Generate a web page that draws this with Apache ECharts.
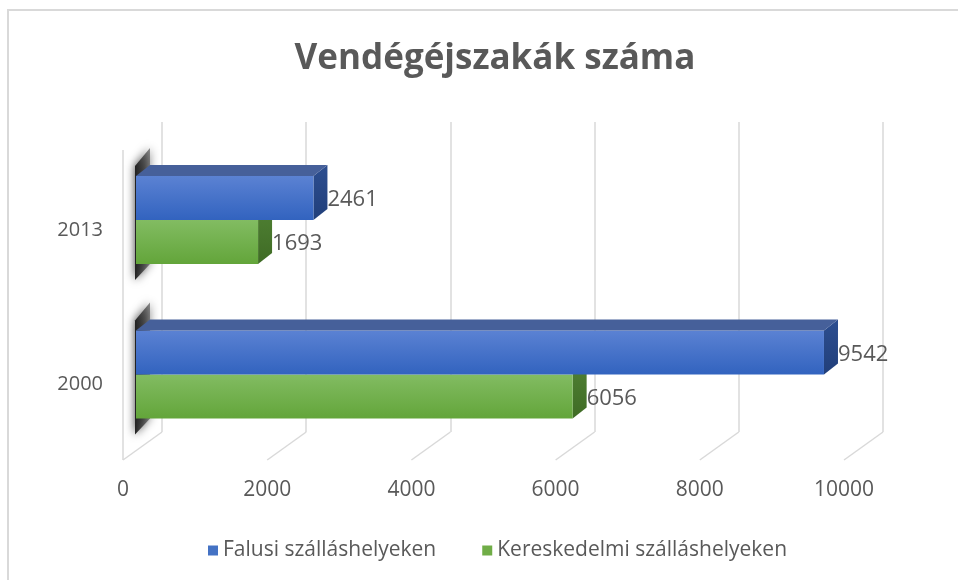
<!DOCTYPE html>
<html>
<head>
<meta charset="utf-8">
<script src="https://cdn.jsdelivr.net/npm/echarts@6/dist/echarts.min.js"></script>
<style>
  html, body { margin: 0; padding: 0; background: #fff; }
  #chart { width: 958px; height: 580px; }
</style>
</head>
<body>
<div id="chart"></div>
<script>
// 数据
const years = ['2000', '2013'];
const falusi = [9542, 2461];        // Falusi szálláshelyeken
const kereskedelmi = [6056, 1693];  // Kereskedelmi szálláshelyeken
const xTicks = [0, 2000, 4000, 6000, 8000, 10000];

const chart = echarts.init(document.getElementById('chart'));

const FONT = 'Open Sans';
const TEXT_COLOR = '#595959';
const GRID_COLOR = '#d9d9d9';
const BAR_RATIO = 0.285;   // bar height / band height
const DX = 14, DY = -11;   // 3D depth of bars
const FLOOR_DX = -39, FLOOR_DY = 28;

function grad(c1, c2) {
  return new echarts.graphic.LinearGradient(0, 0, 0, 1, [
    { offset: 0, color: c1 },
    { offset: 1, color: c2 }
  ]);
}

// 3D bar renderer (upper = blue row, lower = green row)
function barRenderer(upper, front, top, side) {
  return function (params, api) {
    const val = api.value(0);
    const cat = api.value(1);
    const p0 = api.coord([0, cat]);
    const p1 = api.coord([val, cat]);
    const h = api.size([0, 1])[1] * BAR_RATIO;
    const y0 = upper ? p0[1] - h : p0[1];
    const y1 = y0 + h;
    const x0 = p0[0], x1 = p1[0];
    const children = [
      {
        type: 'polygon',
        shape: { points: [[x1, y0], [x1 + DX, y0 + DY], [x1 + DX, y1 + DY], [x1, y1]] },
        style: { fill: side }
      },
      {
        type: 'rect',
        shape: { x: x0, y: y0, width: x1 - x0, height: h },
        style: { fill: front }
      },
      {
        type: 'text',
        style: {
          text: String(val),
          x: x1 + DX,
          y: (y0 + y1) / 2 + 2,
          fill: TEXT_COLOR,
          fontSize: 22,
          fontFamily: FONT,
          verticalAlign: 'middle',
          align: 'left'
        }
      }
    ];
    if (upper) {
      children.push({
        type: 'polygon',
        shape: { points: [[x0, y0], [x0 + DX, y0 + DY], [x1 + DX, y0 + DY], [x1, y0]] },
        style: { fill: top }
      });
    }
    return { type: 'group', children: children };
  };
}

const option = {
  animation: false,
  backgroundColor: '#fff',
  title: {
    text: 'Vendégéjszakák száma',
    left: 490,
    top: 37,
    textAlign: 'center',
    textStyle: { fontFamily: FONT, fontSize: 35, fontWeight: 'bold', color: TEXT_COLOR }
  },
  legend: {
    left: 203,
    top: 535,
    itemWidth: 10,
    itemHeight: 10,
    itemGap: 46,
    icon: 'rect',
    textStyle: { fontFamily: FONT, fontSize: 21, color: TEXT_COLOR },
    data: ['Falusi szálláshelyeken', 'Kereskedelmi szálláshelyeken']
  },
  graphic: [
    {
      type: 'polyline',
      shape: { points: [[8, 600], [8, 10], [960, 10]] },
      style: { stroke: GRID_COLOR, lineWidth: 2, fill: null }
    }
  ],
  grid: [
    { left: 162, width: 721, top: 122, height: 310 },   // back wall
    { left: 136, width: 721, top: 142.75, height: 309 }, // bars
    { left: 123, width: 721, top: 455, height: 5 }       // front labels
  ],
  xAxis: [
    {
      gridIndex: 0, type: 'value', min: 0, max: 10000, interval: 2000,
      axisLine: { show: false }, axisTick: { show: false }, axisLabel: { show: false },
      splitLine: { show: true, lineStyle: { color: GRID_COLOR, width: 1.5 } }
    },
    {
      gridIndex: 1, type: 'value', min: 0, max: 10000, interval: 2000,
      axisLine: { show: false }, axisTick: { show: false }, axisLabel: { show: false },
      splitLine: { show: false }
    },
    {
      gridIndex: 2, type: 'value', min: 0, max: 10000, interval: 2000,
      axisLine: { show: false }, axisTick: { show: false }, splitLine: { show: false },
      axisLabel: {
        margin: 20, fontFamily: FONT, fontSize: 21, color: TEXT_COLOR,
        formatter: v => String(v)
      }
    }
  ],
  yAxis: [
    { gridIndex: 0, type: 'value', min: 0, max: 1, show: false },
    {
      gridIndex: 1, type: 'category', data: years,
      axisLine: { show: false }, axisTick: { show: false }, splitLine: { show: false },
      axisLabel: {
        margin: 33, verticalAlign: 'top', lineHeight: 20,
        fontFamily: FONT, fontSize: 20, color: TEXT_COLOR
      }
    },
    { gridIndex: 2, type: 'value', min: 0, max: 1, show: false }
  ],
  series: [
    {
      // floor lines + left wall front edge
      type: 'custom',
      xAxisIndex: 0, yAxisIndex: 0,
      silent: true,
      data: xTicks.map(t => [t]),
      renderItem: function (params, api) {
        const b = api.coord([api.value(0), 0]);
        const t = api.coord([api.value(0), 1]);
        const children = [{
          type: 'line',
          shape: { x1: b[0], y1: b[1], x2: b[0] + FLOOR_DX, y2: b[1] + FLOOR_DY },
          style: { stroke: GRID_COLOR, lineWidth: 1.5 }
        }];
        if (params.dataIndex === 0) {
          children.push({
            type: 'line',
            shape: { x1: t[0] + FLOOR_DX, y1: t[1] + FLOOR_DY, x2: b[0] + FLOOR_DX, y2: b[1] + FLOOR_DY },
            style: { stroke: GRID_COLOR, lineWidth: 1.5 }
          });
        }
        return { type: 'group', children: children };
      }
    },
    {
      // shadow on left wall
      type: 'custom',
      xAxisIndex: 1, yAxisIndex: 1,
      silent: true,
      data: years.map((y, i) => [0, i]),
      renderItem: function (params, api) {
        const c = api.coord([0, api.value(1)]);
        const h = api.size([0, 1])[1] * BAR_RATIO;
        const yT = c[1] - h, yB = c[1] + h, x0 = c[0];
        return {
          type: 'polygon',
          shape: { points: [[x0 - 1, yT - 10], [x0 + 14, yT - 28], [x0 + 14, yB], [x0 - 1, yB + 16]] },
          style: {
            fill: new echarts.graphic.LinearGradient(0, 0, 1, 0, [
              { offset: 0, color: 'rgba(25,25,25,0.95)' },
              { offset: 1, color: 'rgba(70,70,70,0.6)' }
            ]),
            shadowBlur: 10,
            shadowColor: 'rgba(0,0,0,0.8)'
          }
        };
      }
    },
    {
      name: 'Kereskedelmi szálláshelyeken',
      type: 'custom',
      xAxisIndex: 1, yAxisIndex: 1,
      itemStyle: { color: '#70ad47' },
      encode: { x: 0, y: 1 },
      data: kereskedelmi.map((v, i) => [v, i]),
      renderItem: barRenderer(false, grad('#82bc62', '#63a53a'), '#4e7a34', grad('#4f8033', '#3f6b25'))
    },
    {
      name: 'Falusi szálláshelyeken',
      type: 'custom',
      xAxisIndex: 1, yAxisIndex: 1,
      itemStyle: { color: '#4472c4' },
      encode: { x: 0, y: 1 },
      data: falusi.map((v, i) => [v, i]),
      renderItem: barRenderer(true, grad('#5b82d3', '#3263bf'), '#46609a', grad('#2d4e90', '#213f7a'))
    }
  ]
};

chart.setOption(option);
</script>
</body>
</html>
